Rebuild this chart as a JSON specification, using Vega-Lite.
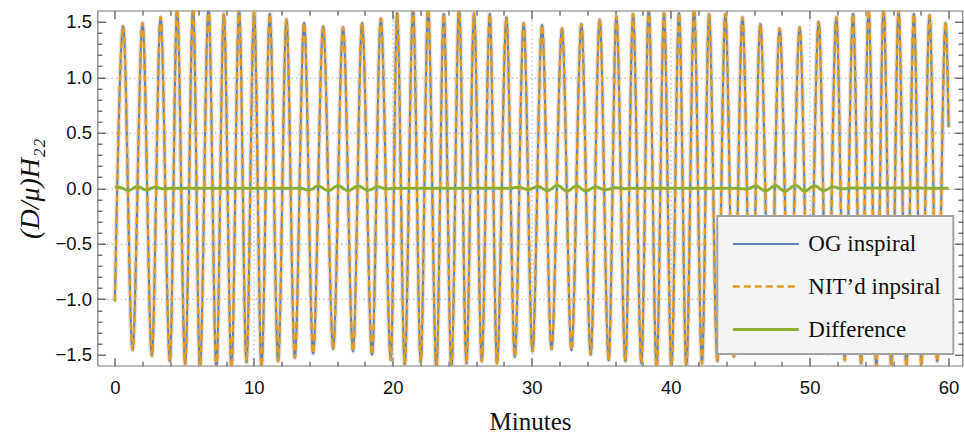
{
  "$schema": "https://vega.github.io/schema/vega-lite/v6.json",
  "width": 865,
  "height": 355,
  "autosize": {"type": "none"},
  "padding": {"left": 97.5, "top": 10.7, "right": 1.5, "bottom": 71.3},
  "background": "white",
  "config": {
    "view": {"stroke": "#7a7a7a", "strokeWidth": 1.2},
    "axis": {
      "domain": false,
      "labelFont": "Liberation Sans",
      "labelFontSize": 18.5,
      "labelColor": "#111111",
      "tickColor": "#333333",
      "tickWidth": 1,
      "labelOverlap": false,
      "labelFlush": false,
      "titleFont": "Liberation Serif",
      "titleFontWeight": "normal",
      "titleColor": "#111111"
    },
    "legend": {
      "strokeWidth": 2,
      "labelFont": "Liberation Serif",
      "labelFontSize": 23,
      "labelColor": "#111111",
      "labelLimit": 400
    }
  },
  "data": {
    "values": [
      {"t": 0.0, "OG inspiral": -1.02, "NIT’d inpsiral": -1.02},
      {"t": 0.60, "OG inspiral": 1.46, "NIT’d inpsiral": 1.46},
      {"t": 1.27, "OG inspiral": -1.46, "NIT’d inpsiral": -1.46},
      {"t": 1.99, "OG inspiral": 1.49, "NIT’d inpsiral": 1.49},
      {"t": 2.66, "OG inspiral": -1.51, "NIT’d inpsiral": -1.51},
      {"t": 3.29, "OG inspiral": 1.54, "NIT’d inpsiral": 1.54},
      {"t": 3.96, "OG inspiral": -1.56, "NIT’d inpsiral": -1.56},
      {"t": 4.48, "OG inspiral": 1.62, "NIT’d inpsiral": 1.62},
      {"t": 5.06, "OG inspiral": -1.59, "NIT’d inpsiral": -1.59},
      {"t": 5.63, "OG inspiral": 1.64, "NIT’d inpsiral": 1.64},
      {"t": 6.12, "OG inspiral": -1.62, "NIT’d inpsiral": -1.62},
      {"t": 6.74, "OG inspiral": 1.63, "NIT’d inpsiral": 1.63},
      {"t": 7.31, "OG inspiral": -1.63, "NIT’d inpsiral": -1.63},
      {"t": 7.84, "OG inspiral": 1.57, "NIT’d inpsiral": 1.57},
      {"t": 8.39, "OG inspiral": -1.62, "NIT’d inpsiral": -1.62},
      {"t": 8.94, "OG inspiral": 1.62, "NIT’d inpsiral": 1.62},
      {"t": 9.47, "OG inspiral": -1.57, "NIT’d inpsiral": -1.57},
      {"t": 10.02, "OG inspiral": 1.59, "NIT’d inpsiral": 1.59},
      {"t": 10.55, "OG inspiral": -1.61, "NIT’d inpsiral": -1.61},
      {"t": 11.15, "OG inspiral": 1.57, "NIT’d inpsiral": 1.57},
      {"t": 11.75, "OG inspiral": -1.56, "NIT’d inpsiral": -1.56},
      {"t": 12.35, "OG inspiral": 1.52, "NIT’d inpsiral": 1.52},
      {"t": 12.95, "OG inspiral": -1.53, "NIT’d inpsiral": -1.53},
      {"t": 13.62, "OG inspiral": 1.49, "NIT’d inpsiral": 1.49},
      {"t": 14.27, "OG inspiral": -1.49, "NIT’d inpsiral": -1.49},
      {"t": 14.99, "OG inspiral": 1.46, "NIT’d inpsiral": 1.46},
      {"t": 15.71, "OG inspiral": -1.45, "NIT’d inpsiral": -1.45},
      {"t": 16.42, "OG inspiral": 1.45, "NIT’d inpsiral": 1.45},
      {"t": 17.14, "OG inspiral": -1.47, "NIT’d inpsiral": -1.47},
      {"t": 17.79, "OG inspiral": 1.49, "NIT’d inpsiral": 1.49},
      {"t": 18.51, "OG inspiral": -1.50, "NIT’d inpsiral": -1.50},
      {"t": 19.14, "OG inspiral": 1.53, "NIT’d inpsiral": 1.53},
      {"t": 19.86, "OG inspiral": -1.55, "NIT’d inpsiral": -1.55},
      {"t": 20.31, "OG inspiral": 1.58, "NIT’d inpsiral": 1.58},
      {"t": 20.86, "OG inspiral": -1.59, "NIT’d inpsiral": -1.59},
      {"t": 21.46, "OG inspiral": 1.62, "NIT’d inpsiral": 1.62},
      {"t": 22.01, "OG inspiral": -1.57, "NIT’d inpsiral": -1.57},
      {"t": 22.54, "OG inspiral": 1.62, "NIT’d inpsiral": 1.62},
      {"t": 23.14, "OG inspiral": -1.63, "NIT’d inpsiral": -1.63},
      {"t": 23.67, "OG inspiral": 1.57, "NIT’d inpsiral": 1.57},
      {"t": 24.22, "OG inspiral": -1.63, "NIT’d inpsiral": -1.63},
      {"t": 24.77, "OG inspiral": 1.64, "NIT’d inpsiral": 1.64},
      {"t": 25.30, "OG inspiral": -1.58, "NIT’d inpsiral": -1.58},
      {"t": 25.85, "OG inspiral": 1.58, "NIT’d inpsiral": 1.58},
      {"t": 26.40, "OG inspiral": -1.56, "NIT’d inpsiral": -1.56},
      {"t": 26.98, "OG inspiral": 1.57, "NIT’d inpsiral": 1.57},
      {"t": 27.50, "OG inspiral": -1.58, "NIT’d inpsiral": -1.58},
      {"t": 28.18, "OG inspiral": 1.54, "NIT’d inpsiral": 1.54},
      {"t": 28.78, "OG inspiral": -1.52, "NIT’d inpsiral": -1.52},
      {"t": 29.42, "OG inspiral": 1.49, "NIT’d inpsiral": 1.49},
      {"t": 30.05, "OG inspiral": -1.47, "NIT’d inpsiral": -1.47},
      {"t": 30.74, "OG inspiral": 1.47, "NIT’d inpsiral": 1.47},
      {"t": 31.42, "OG inspiral": -1.45, "NIT’d inpsiral": -1.45},
      {"t": 32.18, "OG inspiral": 1.44, "NIT’d inpsiral": 1.44},
      {"t": 32.86, "OG inspiral": -1.46, "NIT’d inpsiral": -1.46},
      {"t": 33.57, "OG inspiral": 1.48, "NIT’d inpsiral": 1.48},
      {"t": 34.24, "OG inspiral": -1.50, "NIT’d inpsiral": -1.50},
      {"t": 34.89, "OG inspiral": 1.52, "NIT’d inpsiral": 1.52},
      {"t": 35.54, "OG inspiral": -1.55, "NIT’d inpsiral": -1.55},
      {"t": 36.09, "OG inspiral": 1.55, "NIT’d inpsiral": 1.55},
      {"t": 36.74, "OG inspiral": -1.56, "NIT’d inpsiral": -1.56},
      {"t": 37.29, "OG inspiral": 1.57, "NIT’d inpsiral": 1.57},
      {"t": 37.89, "OG inspiral": -1.58, "NIT’d inpsiral": -1.58},
      {"t": 38.42, "OG inspiral": 1.62, "NIT’d inpsiral": 1.62},
      {"t": 38.99, "OG inspiral": -1.62, "NIT’d inpsiral": -1.62},
      {"t": 39.52, "OG inspiral": 1.58, "NIT’d inpsiral": 1.58},
      {"t": 40.05, "OG inspiral": -1.62, "NIT’d inpsiral": -1.62},
      {"t": 40.60, "OG inspiral": 1.58, "NIT’d inpsiral": 1.58},
      {"t": 41.13, "OG inspiral": -1.62, "NIT’d inpsiral": -1.62},
      {"t": 41.68, "OG inspiral": 1.63, "NIT’d inpsiral": 1.63},
      {"t": 42.25, "OG inspiral": -1.58, "NIT’d inpsiral": -1.58},
      {"t": 42.76, "OG inspiral": 1.57, "NIT’d inpsiral": 1.57},
      {"t": 43.36, "OG inspiral": -1.56, "NIT’d inpsiral": -1.56},
      {"t": 43.93, "OG inspiral": 1.57, "NIT’d inpsiral": 1.57},
      {"t": 44.55, "OG inspiral": -1.52, "NIT’d inpsiral": -1.52},
      {"t": 45.16, "OG inspiral": 1.54, "NIT’d inpsiral": 1.54},
      {"t": 45.80, "OG inspiral": -1.48, "NIT’d inpsiral": -1.48},
      {"t": 46.45, "OG inspiral": 1.48, "NIT’d inpsiral": 1.48},
      {"t": 47.15, "OG inspiral": -1.45, "NIT’d inpsiral": -1.45},
      {"t": 47.84, "OG inspiral": 1.44, "NIT’d inpsiral": 1.44},
      {"t": 48.56, "OG inspiral": -1.43, "NIT’d inpsiral": -1.43},
      {"t": 49.28, "OG inspiral": 1.45, "NIT’d inpsiral": 1.45},
      {"t": 49.96, "OG inspiral": -1.45, "NIT’d inpsiral": -1.45},
      {"t": 50.65, "OG inspiral": 1.50, "NIT’d inpsiral": 1.50},
      {"t": 51.28, "OG inspiral": -1.49, "NIT’d inpsiral": -1.49},
      {"t": 51.92, "OG inspiral": 1.54, "NIT’d inpsiral": 1.54},
      {"t": 52.52, "OG inspiral": -1.55, "NIT’d inpsiral": -1.55},
      {"t": 53.12, "OG inspiral": 1.57, "NIT’d inpsiral": 1.57},
      {"t": 53.71, "OG inspiral": -1.58, "NIT’d inpsiral": -1.58},
      {"t": 54.24, "OG inspiral": 1.61, "NIT’d inpsiral": 1.61},
      {"t": 54.80, "OG inspiral": -1.61, "NIT’d inpsiral": -1.61},
      {"t": 55.32, "OG inspiral": 1.62, "NIT’d inpsiral": 1.62},
      {"t": 55.88, "OG inspiral": -1.62, "NIT’d inpsiral": -1.62},
      {"t": 56.40, "OG inspiral": 1.61, "NIT’d inpsiral": 1.61},
      {"t": 56.96, "OG inspiral": -1.61, "NIT’d inpsiral": -1.61},
      {"t": 57.50, "OG inspiral": 1.57, "NIT’d inpsiral": 1.57},
      {"t": 58.04, "OG inspiral": -1.59, "NIT’d inpsiral": -1.59},
      {"t": 58.63, "OG inspiral": 1.56, "NIT’d inpsiral": 1.56},
      {"t": 59.18, "OG inspiral": -1.56, "NIT’d inpsiral": -1.56},
      {"t": 59.78, "OG inspiral": 1.49, "NIT’d inpsiral": 1.49},
      {"t": 60.0, "OG inspiral": 0.55, "NIT’d inpsiral": 0.55},
      {"t": 0.0, "Difference": 0.012},
      {"t": 0.45, "Difference": 0.004},
      {"t": 0.96, "Difference": -0.02},
      {"t": 1.6, "Difference": 0.015},
      {"t": 2.28, "Difference": -0.016},
      {"t": 2.88, "Difference": 0.01},
      {"t": 3.48, "Difference": -0.006},
      {"t": 4.1, "Difference": 0.0},
      {"t": 13.3, "Difference": 0.0},
      {"t": 14.0, "Difference": -0.016},
      {"t": 14.63, "Difference": 0.02},
      {"t": 15.35, "Difference": -0.022},
      {"t": 16.07, "Difference": 0.022},
      {"t": 16.78, "Difference": -0.022},
      {"t": 17.5, "Difference": 0.02},
      {"t": 18.22, "Difference": -0.018},
      {"t": 18.94, "Difference": 0.012},
      {"t": 19.55, "Difference": -0.006},
      {"t": 20.2, "Difference": 0.0},
      {"t": 28.3, "Difference": 0.0},
      {"t": 29.09, "Difference": 0.008},
      {"t": 29.74, "Difference": -0.012},
      {"t": 30.45, "Difference": 0.015},
      {"t": 31.15, "Difference": -0.021},
      {"t": 31.85, "Difference": 0.024},
      {"t": 32.55, "Difference": -0.027},
      {"t": 33.21, "Difference": 0.02},
      {"t": 33.9, "Difference": -0.024},
      {"t": 34.6, "Difference": 0.012},
      {"t": 35.28, "Difference": -0.015},
      {"t": 36.0, "Difference": 0.005},
      {"t": 36.7, "Difference": -0.004},
      {"t": 37.4, "Difference": 0.0},
      {"t": 44.7, "Difference": 0.0},
      {"t": 45.45, "Difference": -0.008},
      {"t": 46.12, "Difference": 0.018},
      {"t": 46.83, "Difference": -0.024},
      {"t": 47.55, "Difference": 0.024},
      {"t": 48.2, "Difference": -0.027},
      {"t": 48.99, "Difference": 0.025},
      {"t": 49.64, "Difference": -0.026},
      {"t": 50.36, "Difference": 0.022},
      {"t": 51.0, "Difference": -0.022},
      {"t": 51.68, "Difference": 0.012},
      {"t": 52.35, "Difference": -0.006},
      {"t": 53.0, "Difference": 0.002},
      {"t": 60.0, "Difference": 0.0}
    ]
  },
  "transform": [
    {"fold": ["OG inspiral", "NIT’d inpsiral", "Difference"], "as": ["series", "val"]},
    {"filter": "isValid(datum.val)"}
  ],
  "layer": [
    {
      "transform": [{"filter": "datum.series === 'OG inspiral'"}],
      "mark": {"type": "line", "interpolate": "monotone", "clip": true, "stroke": "#c4c4c4", "strokeWidth": 5, "opacity": 0.45},
      "encoding": {
        "x": {
          "field": "t", "type": "quantitative",
          "scale": {"domain": [-1.25, 61], "nice": false, "zero": false},
          "axis": {
            "orient": "bottom",
            "values": [0,2,4,6,8,10,12,14,16,18,20,22,24,26,28,30,32,34,36,38,40,42,44,46,48,50,52,54,56,58,60],
            "title": "Minutes",
            "titleFontSize": 25,
            "titlePadding": 9,
            "labelExpr": "round(datum.value) % 10 === 0 ? datum.label : ''",
            "labelPadding": 21,
            "tickSize": {"condition": {"test": "round(datum.value) % 10 === 0", "value": -8}, "value": -4.5},
            "grid": true,
            "gridColor": "#aaaaaa",
            "gridDash": [1.5, 3],
            "gridWidth": 1,
            "gridOpacity": {"condition": {"test": "round(datum.value) % 10 === 0 && datum.value > 1 && datum.value < 59", "value": 1}, "value": 0}
          }
        },
        "y": {
          "field": "val", "type": "quantitative",
          "scale": {"domain": [-1.6, 1.6], "nice": false, "zero": false},
          "axis": {
            "orient": "left",
            "values": [-1.5,-1.4,-1.3,-1.2,-1.1,-1.0,-0.9,-0.8,-0.7,-0.6,-0.5,-0.4,-0.3,-0.2,-0.1,0,0.1,0.2,0.3,0.4,0.5,0.6,0.7,0.8,0.9,1.0,1.1,1.2,1.3,1.4,1.5],
            "title": "(D/μ)H₂₂",
            "titleFontStyle": "italic",
            "titleFontSize": 28,
            "titlePadding": 10,
            "labelExpr": "abs(round(datum.value*10)) % 5 === 0 ? format(datum.value, '.1f') : ''",
            "labelPadding": 14,
            "tickSize": {"condition": {"test": "abs(round(datum.value*10)) % 5 === 0", "value": -8}, "value": -4.5},
            "grid": true,
            "gridColor": "#aaaaaa",
            "gridDash": [1.5, 3],
            "gridWidth": 1,
            "gridOpacity": {"condition": {"test": "abs(round(datum.value*10)) % 5 === 0 && abs(datum.value) < 1.2", "value": 1}, "value": 0}
          }
        }
      }
    },
    {
      "mark": {"type": "line", "interpolate": "monotone", "clip": true},
      "encoding": {
        "x": {
          "field": "t", "type": "quantitative",
          "axis": {
            "orient": "top",
            "values": [0,2,4,6,8,10,12,14,16,18,20,22,24,26,28,30,32,34,36,38,40,42,44,46,48,50,52,54,56,58,60],
            "title": null,
            "labels": false,
            "grid": false,
            "tickSize": {"condition": {"test": "round(datum.value) % 10 === 0", "value": -8}, "value": -4.5}
          }
        },
        "y": {
          "field": "val", "type": "quantitative",
          "axis": {
            "orient": "right",
            "values": [-1.5,-1.4,-1.3,-1.2,-1.1,-1.0,-0.9,-0.8,-0.7,-0.6,-0.5,-0.4,-0.3,-0.2,-0.1,0,0.1,0.2,0.3,0.4,0.5,0.6,0.7,0.8,0.9,1.0,1.1,1.2,1.3,1.4,1.5],
            "title": null,
            "labels": false,
            "grid": false,
            "tickSize": {"condition": {"test": "abs(round(datum.value*10)) % 5 === 0", "value": -8}, "value": -4.5}
          }
        },
        "color": {
          "field": "series", "type": "nominal",
          "scale": {"domain": ["OG inspiral", "NIT’d inpsiral", "Difference"], "range": ["#5E81B5", "#E19C24", "#8FB032"]},
          "legend": {
            "title": null, "orient": "none", "legendX": 619.8, "legendY": 205.3,
            "fillColor": "#f4f4f4", "strokeColor": "#a3a3a3", "padding": 12, "cornerRadius": 0,
            "symbolType": "M-0.867,0H3.53", "symbolSize": 900, "symbolStrokeWidth": 2.6,
            "labelFont": "Liberation Serif", "labelFontSize": 23, "labelColor": "#111111",
            "labelOffset": 46, "rowPadding": 14,
            "encode": {"labels": {"update": {"font": {"value": "Liberation Serif"}}}}
          }
        },
        "strokeDash": {
          "field": "series", "type": "nominal",
          "scale": {"domain": ["OG inspiral", "NIT’d inpsiral", "Difference"], "range": [[1, 0], [7, 4], [1, 0]]},
          "legend": {
            "title": null, "orient": "none", "legendX": 619.8, "legendY": 205.3,
            "fillColor": "#f4f4f4", "strokeColor": "#a3a3a3", "padding": 12, "cornerRadius": 0,
            "symbolType": "M-0.867,0H3.53", "symbolSize": 900, "symbolStrokeWidth": 2.6,
            "labelFont": "Liberation Serif", "labelFontSize": 23, "labelColor": "#111111",
            "labelOffset": 46, "rowPadding": 14,
            "encode": {"labels": {"update": {"font": {"value": "Liberation Serif"}}}}
          }
        },
        "strokeWidth": {
          "field": "series", "type": "nominal",
          "scale": {"domain": ["OG inspiral", "NIT’d inpsiral", "Difference"], "range": [2, 3, 2.8]},
          "legend": null
        }
      }
    }
  ],
  "resolve": {"axis": {"x": "independent", "y": "independent"}}
}
